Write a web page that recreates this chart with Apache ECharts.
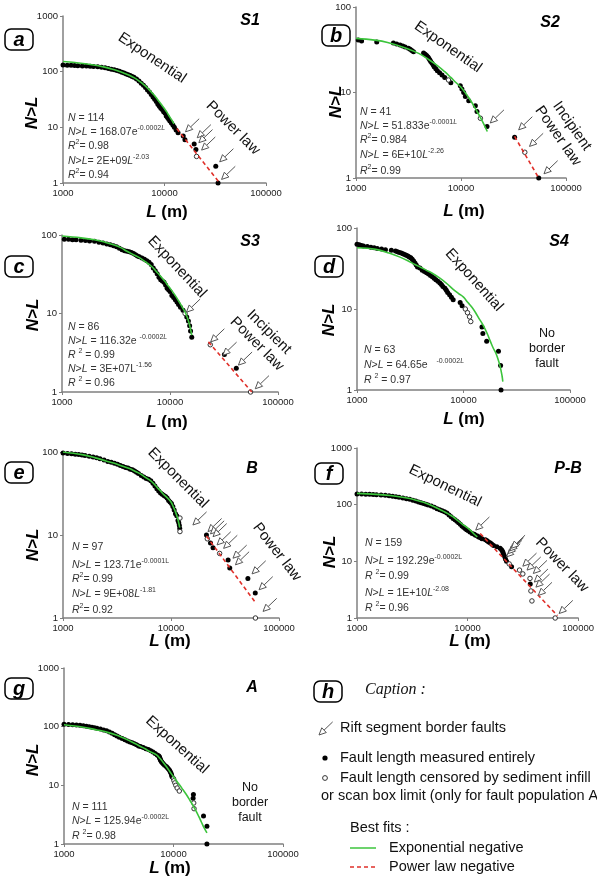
<!DOCTYPE html>
<html><head><meta charset="utf-8">
<script src="https://cdn.jsdelivr.net/npm/echarts@6/dist/echarts.min.js"></script>
<style>html,body{margin:0;padding:0;background:#fff}#c{width:597px;height:877px}</style>
</head><body><div id="c"></div>
<script>
// ---------- tick labels ----------
const xTickLabels = ['1000', '10000', '100000'];
const yTickLabels = ['1', '10', '100', '1000'];

// ---------- panel a : S1 ----------
const aDots = [[1000,132],[1100,131],[1200,130],[1300,129],[1400,128],[1550,127],[1700,126],[1850,125],[2000,124],[2200,122],[2400,120],[2600,117],[2800,114],[3000,111],[3200,108],[3400,105],[3600,102],[3800,98],[4000,95],[4200,91],[4400,88],[4600,85],[4800,82],[5000,79],[5300,74],[5600,68],[5900,62],[6200,57],[6500,52],[6800,47],[7100,43],[7400,39],[7700,35],[8000,32],[8300,29],[8600,26],[8900,24],[9200,22],[9500,21],[9800,19],[10100,18],[10400,16],[10700,15],[11000,14],[11300,13],[11700,12],[12100,11],[12500,10],[13000,9],[13600,8],[15300,7],[15900,6],[19600,5],[20400,4],[32000,2],[33700,1]];
const aOpen = [[20700,3]];
const aExp = [[1000,152],[1500,142],[2000,132],[2500,122],[3000,112],[3500,103],[4000,94],[4500,86],[5000,78],[5500,70],[6000,62],[6500,55],[7000,48],[7500,42],[8000,37],[8500,32],[9000,28],[9500,24.5],[10000,21.5],[10500,19],[11000,16.5],[11500,14.5],[12000,12.8],[12400,11.5]];
const aPow = [[13200,9.5],[35000,1]];
const aArrows = [[16100,8.3],[21000,6.5],[21800,5.3],[23200,3.9],[35000,2.4],[36500,1.16]];

// ---------- panel b : S2 ----------
const bDots = [[1050,41],[1130,40],[1576,39],[2270,38],[2440,37],[2630,36],[2790,35],[2940,34],[3160,33],[3280,32],[3400,31],[3530,30],[4400,29],[4560,28],[4700,27],[4850,26],[4950,25],[5050,24],[5150,23],[5300,22],[5450,21],[5550,20],[5750,19],[5950,18],[6250,17],[6600,16],[7000,15],[8000,13],[9850,12],[10200,11],[10600,10],[11000,9],[11850,8],[13700,7],[14200,6],[17700,4],[32400,3],[55000,1]];
const bOpen = [[7600,14],[15300,5],[40500,2]];
const bExp = [[1000,43],[1500,41],[2000,38.5],[3000,33],[4000,28.5],[5000,24],[6000,20.5],[7000,17.5],[8000,15],[9000,13],[10000,11.5],[12000,8.5],[14000,6.2],[16000,4.6],[17800,3.5]];
const bPow = [[32400,3.06],[55000,1]];
const bArrows = [[19000,4.4],[35400,3.66],[44900,2.34],[61700,1.12]];

// ---------- panel c : S3 ----------
const cDots = [[1050,88],[1150,88],[1250,87],[1350,87],[1500,86],[1650,85],[1800,84],[2000,83],[2200,81],[2400,79],[2600,77],[2800,75],[3000,73],[3200,71],[3400,68],[3600,65],[3800,63],[4000,62],[4200,61],[4400,60],[4600,58],[4800,56],[5000,54],[5200,53],[5500,51],[5800,49],[6100,47],[6400,45],[6700,42],[7000,38],[7300,35],[7600,32],[7900,29],[8200,27],[8500,26],[8800,25],[9100,23],[9400,21],[9700,20],[10000,19],[10400,17],[10800,16],[11200,15],[11600,14],[12000,13],[12500,12],[13200,11],[14300,9],[14800,8],[15200,7],[15500,6],[15900,5],[31900,3],[41100,2]];
const cOpen = [[13800,10],[23600,4],[55700,1]];
const cExp = [[1000,97],[1500,92],[2000,87],[2500,81],[3000,75],[3500,69],[4000,62],[4500,57],[5000,53],[5500,49],[6000,45],[6500,41.5],[7000,38],[7500,34],[8000,31],[8500,28],[9000,25.5],[9500,23],[10000,21],[11000,17.5],[12000,14.5],[13000,12],[14000,10],[15000,7.6],[15900,5.3]];
const cPow = [[22700,4.35],[57200,1]];
const cArrows = [[14200,10.4],[23800,4.35],[30900,2.94],[43000,2.2],[61600,1.1]];

// ---------- panel d : S4 ----------
const dDots = [[1000,63],[1050,62],[1100,61],[1150,60],[1250,59],[1350,58],[1450,57],[1550,56],[1700,55],[1850,54],[2100,53],[2300,52],[2400,51],[2500,50],[2600,49],[2700,48],[2800,47],[2900,46],[3000,45],[3100,44],[3200,43],[3300,41],[3400,39],[3500,37],[3600,35],[3700,33],[3900,32],[4100,30],[4300,29],[4500,28],[4700,27],[4900,26],[5100,25],[5300,24],[5500,23],[5750,22],[6000,21],[6200,20],[6400,19],[6700,18],[6900,17],[7100,16],[7400,15],[7700,14],[8000,13],[9300,12],[9700,11],[14900,6],[15200,5],[16500,4],[21300,3],[22300,2],[22500,1]];
const dOpen = [[10400,10],[10900,9],[11400,8],[11700,7]];
const dExp = [[1000,57],[1500,54.5],[2000,49],[2500,44],[3000,39.5],[3500,35.5],[4000,32.5],[4500,30],[5000,28],[6000,24],[7000,20.5],[8000,17.5],[9000,15.5],[10000,14],[11000,12],[12000,10.5],[13000,9],[14000,7.6],[15000,6.6],[16000,5.6],[17000,4.7],[18000,3.9],[19000,3.3],[20000,2.9],[21000,2.45],[22000,2.0],[23000,1.5],[23400,1.27]];

// ---------- panel e : B ----------
const eDots = [[1000,97],[1100,96],[1200,95],[1300,94],[1400,93],[1500,92],[1600,91],[1750,89],[1900,87],[2050,85],[2200,83],[2400,80],[2600,77],[2800,75],[3000,73],[3200,71],[3400,69],[3600,67],[3800,65],[4000,64],[4200,62],[4400,61],[4600,59],[4800,57],[5000,55],[5300,52],[5600,50],[5900,48],[6200,47],[6500,45],[6800,42],[7100,39],[7400,36],[7700,34],[8000,32],[8300,31],[8600,30],[8900,29],[9200,28],[9500,26],[9800,25],[10100,24],[10400,22],[10700,20],[11000,18],[11300,17],[11600,15],[11800,14],[11950,13],[12050,12],[21300,10],[23200,8],[24500,7],[33800,5],[35000,4],[51500,3],[60300,2]];
const eOpen = [[12100,16],[12100,11],[21700,9],[28200,6],[60500,1]];
const eExp = [[1000,100],[1500,93],[2000,85],[2500,78],[3000,73],[3500,68],[4000,64],[4500,60],[5000,56],[5500,52],[6000,48],[6500,45],[7000,41],[7500,37],[8000,34],[8500,31],[9000,29],[9500,27],[10000,25],[10500,22],[11000,19],[11500,16],[12050,12.3]];
const ePow = [[21300,9.7],[61300,1.5]];
const eArrows = [[15950,13.2],[22000,11],[23200,10.3],[24500,9.55],[26700,7.6],[30700,6.9],[37500,5.25],[39500,4.37],[56300,3.4],[65400,2.19],[71200,1.2]];

// ---------- panel f : P-B ----------
const fDots = [[1000,155],[1100,154],[1200,153],[1300,152],[1400,151],[1500,150],[1650,148],[1800,146],[1950,143],[2100,141],[2250,138],[2400,135],[2600,131],[2800,127],[3000,124],[3200,120],[3400,116],[3600,112],[3800,108],[4000,105],[4200,102],[4400,99],[4700,95],[5000,90],[5300,85],[5600,81],[5900,78],[6200,75],[6500,71],[6800,66],[7100,61],[7400,57],[7700,54],[8000,51],[8300,48],[8600,45],[8900,42],[9200,40],[9500,38],[9800,36],[10100,35],[10500,33],[11000,31],[11500,30],[11800,29],[12300,28],[12600,27],[13100,26],[13500,25],[14500,24],[15000,23],[15500,22],[16100,21],[16600,20],[17200,19],[18400,18],[19700,17],[20300,16],[20700,15],[21000,14],[21300,13],[21700,12],[22000,11],[22500,10],[25000,8],[36900,4]];
const fOpen = [[23800,9],[29500,7],[31600,6],[36700,5],[37400,3],[38200,2],[62000,1]];
const fExp = [[1000,158],[1500,152],[2000,145],[2500,137],[3000,128],[3500,118],[4000,110],[4500,101],[5000,92],[5500,84],[6000,77],[6500,71],[7000,65],[7500,60],[8000,54],[8500,49],[9000,45],[9500,42],[10000,39],[10500,36],[11000,33],[11500,30],[12250,27]];
const fPow = [[13000,31],[65000,1.1]];
const fArrows = [[11850,35.6],[22500,12],[23300,13.7],[24100,15.3],[24900,17],[31600,8.2],[34500,7],[39300,6.1],[40100,4.3],[41500,3.5],[43600,2.5],[67300,1.2]];

// ---------- panel g : A ----------
const gDots = [[1000,110],[1100,109],[1200,108],[1300,107],[1400,106],[1500,104],[1600,102],[1700,100],[1800,98],[1900,96],[2000,94],[2150,91],[2300,88],[2450,85],[2600,81],[2750,77],[2900,73],[3050,69],[3200,66],[3400,63],[3600,60],[3800,57],[4000,55],[4200,53],[4400,51],[4600,49],[4800,47],[5000,46],[5300,44],[5600,42],[5900,41],[6200,39],[6500,37],[6800,35],[7100,33],[7300,32],[7400,31],[7450,30],[7500,29],[7550,28],[7600,27],[7700,26],[7800,25],[7950,24],[8100,23],[8300,22],[8600,21],[8800,20],[9000,19],[9200,18],[9350,17],[9500,16],[9600,15],[9700,14],[15200,7],[15100,6],[18800,3],[20200,2],[20200,1]];
const gOpen = [[10000,13],[10100,12],[10300,11],[10500,10],[10800,9],[11300,8],[15300,5],[15400,4]];
const gExp = [[1000,108],[1500,98],[2000,88],[2500,80],[3000,72],[3500,64],[4000,57],[4500,51],[5000,46],[5500,42],[6000,38],[6500,35.5],[7000,33],[7500,29],[8000,25],[8500,21.5],[9000,18.5],[9500,16],[10000,14],[11000,11],[12000,8.8],[13000,7.1],[14000,5.7],[15000,4.6],[16000,3.7],[17000,2.95],[18000,2.35],[19000,1.9],[20200,1.55]];

// ---------- layout / styles ----------
const F = 'Arial, "Liberation Sans", sans-serif';
const GREEN = '#3cc43c', RED = '#e0302a', AX = '#808080';
const panels = [
  {grid:{left:63,top:16,width:203,height:167}, yMax:1000, dots:aDots, open:aOpen, exp:aExp, pow:aPow, arrows:aArrows},
  {grid:{left:356,top:7,width:210,height:171}, yMax:100, dots:bDots, open:bOpen, exp:bExp, pow:bPow, arrows:bArrows},
  {grid:{left:62,top:235,width:216,height:157}, yMax:100, dots:cDots, open:cOpen, exp:cExp, pow:cPow, arrows:cArrows},
  {grid:{left:357,top:228,width:213,height:162}, yMax:100, dots:dDots, open:dOpen, exp:dExp, pow:null, arrows:null},
  {grid:{left:63,top:452,width:216,height:166}, yMax:100, dots:eDots, open:eOpen, exp:eExp, pow:ePow, arrows:eArrows},
  {grid:{left:357,top:448,width:226,height:170}, yMax:1000, dots:fDots, open:fOpen, exp:fExp, pow:fPow, arrows:fArrows},
  {grid:{left:64,top:668,width:219,height:176}, yMax:1000, dots:gDots, open:gOpen, exp:gExp, pow:null, arrows:null}
];

function fmtX(v){ return xTickLabels[Math.round(Math.log10(v)) - 3] || ''; }
function fmtY(v){ return yTickLabels[Math.round(Math.log10(v))] || ''; }

function arrowShape(p, col){
  const ux = 0.72, uy = -0.69, L = 19, H = 7, W = 3.3;
  const bx = p[0] + ux*H, by = p[1] + uy*H, nx = -uy, ny = ux;
  return [
    {type:'line', shape:{x1:bx, y1:by, x2:p[0]+ux*L, y2:p[1]+uy*L}, style:{stroke:col, lineWidth:1}},
    {type:'polygon', shape:{points:[[p[0],p[1]],[bx+nx*W,by+ny*W],[bx-nx*W,by-ny*W]]}, style:{fill:'#fff', stroke:col, lineWidth:1}}
  ];
}
function renderArrow(params, api){
  const p = api.coord([api.value(0), api.value(1)]);
  return {type:'group', children: arrowShape(p, '#555')};
}

const grids = [], xAxes = [], yAxes = [], series = [];
panels.forEach((pn, i) => {
  grids.push(Object.assign({containLabel:false}, pn.grid));
  const axBase = {
    type:'log', logBase:10, gridIndex:i,
    axisLine:{show:true, onZero:false, lineStyle:{color:AX, width:1.5}},
    axisTick:{show:true, length:3, lineStyle:{color:AX, width:1}},
    splitLine:{show:false}, minorTick:{show:false}, minorSplitLine:{show:false}
  };
  xAxes.push(Object.assign({}, axBase, {min:1000, max:100000,
    axisLabel:{fontSize:9.5, fontFamily:F, color:'#222', margin:5, formatter:fmtX, showMinLabel:true, showMaxLabel:true}}));
  yAxes.push(Object.assign({}, axBase, {min:1, max:pn.yMax,
    axisLabel:{fontSize:9.5, fontFamily:F, color:'#222', margin:5, formatter:fmtY, showMinLabel:true, showMaxLabel:true}}));
  series.push({type:'scatter', xAxisIndex:i, yAxisIndex:i, data:pn.dots, symbol:'circle', symbolSize:5,
    itemStyle:{color:'#000', opacity:1}, z:3, silent:true});
  series.push({type:'scatter', xAxisIndex:i, yAxisIndex:i, data:pn.open, symbol:'circle', symbolSize:4.5,
    itemStyle:{color:'#fff', borderColor:'#333', borderWidth:1, opacity:1}, z:3, silent:true});
  series.push({type:'line', xAxisIndex:i, yAxisIndex:i, data:pn.exp, smooth:0.4, showSymbol:false,
    lineStyle:{color:GREEN, width:1.6}, z:4, silent:true});
  if (pn.pow) series.push({type:'line', xAxisIndex:i, yAxisIndex:i, data:pn.pow, showSymbol:false,
    lineStyle:{color:RED, width:1.6, type:[4,3]}, z:4, silent:true});
  if (pn.arrows) series.push({type:'custom', xAxisIndex:i, yAxisIndex:i, data:pn.arrows,
    renderItem:renderArrow, clip:false, z:6, silent:true});
});

// ---------- text annotations ----------
const G = [];
function txt(x, y, text, o){
  o = o || {};
  G.push({type:'text', x:x, y:y, rotation:o.rot ? -o.rot*Math.PI/180 : (o.rad || 0), z:50, silent:true,
    style:{text:text, fill:o.fill || '#111', fontSize:o.size || 11, fontFamily:o.family || F,
      fontStyle:o.style || 'normal', fontWeight:o.weight || 'normal',
      align:o.align || 'center', textAlign:o.align || 'center',
      verticalAlign:'middle', textVerticalAlign:'middle', lineHeight:o.lh, rich:o.rich}});
}
const SR = {
  i:{fontStyle:'italic', fontSize:10.5, fill:'#333', fontFamily:F, lineHeight:14},
  s:{fontSize:7, fill:'#333', fontFamily:F, lineHeight:7, verticalAlign:'top'},
  si:{fontSize:7, fontStyle:'italic', fill:'#333', fontFamily:F, lineHeight:7, verticalAlign:'top'}
};
function stat(x, ys, lines){
  lines.forEach((l, k) => txt(x, ys[k], l, {align:'left', size:10.5, fill:'#333', rich:SR, lh:14}));
}
function label(x, y, ch){
  G.push({type:'rect', x:x, y:y, z:40, silent:true, shape:{x:0, y:0, width:28, height:21, r:6},
    style:{fill:'#fff', stroke:'#000', lineWidth:1.5}});
  txt(x+14, y+11, ch, {size:20, weight:'bold', style:'italic', fill:'#000'});
}
const YT = {size:17, weight:'bold', style:'italic', fill:'#000', rad:Math.PI/2};
const LM = {size:17, weight:'bold', fill:'#000', rich:{a:{fontStyle:'italic', fontWeight:'bold', fontSize:17, fill:'#000', fontFamily:F}}};
const TT = {size:16, weight:'bold', style:'italic', fill:'#000'};
const AN = {size:15, fill:'#111'};
function an(deg, extra){ return Object.assign({rot:deg}, AN, extra || {}); }

// panel a
label(5, 29, 'a'); txt(250, 21, 'S1', TT); txt(32, 113, 'N>L', YT); txt(167, 212, '{a|L} (m)', LM);
txt(152, 58, 'Exponential', an(34)); txt(233, 128, 'Power law', an(45));
stat(68, [118,132,146,161,175], ['{i|N} = 114','{i|N}>{i|L} = 168.07e{s|-0.0002}{si|L}','{i|R}{s|2}= 0.98','{i|N}>{i|L}= 2E+09{i|L}{s|-2.03}','{i|R}{s|2}= 0.94']);
// panel b
label(322, 25, 'b'); txt(550, 23, 'S2', TT); txt(336, 102, 'N>L', YT); txt(464, 211, '{a|L} (m)', LM);
txt(448, 47, 'Exponential', an(35)); txt(565, 131, 'Incipient\nPower law', an(55, {lh:17}));
stat(360, [112,126,140,155,171], ['{i|N} = 41','{i|N}>{i|L} = 51.833e{s|-0.0001}{si|L}','{i|R}{s|2}= 0.984','{i|N}>{i|L} = 6E+10{i|L}{s|-2.26}','{i|R}{s|2}= 0.99']);
// panel c
label(5, 256, 'c'); txt(250, 242, 'S3', TT); txt(33, 315, 'N>L', YT); txt(167, 422, '{a|L} (m)', LM);
txt(177, 267, 'Exponential', an(47)); txt(263, 338, 'Incipient\nPower law', an(45, {lh:17}));
stat(68, [327,341,355,369,383], ['{i|N} = 86','{i|N}>{i|L} = 116.32e {s|-0.0002}{si|L}','{i|R} {s|2} = 0.99','{i|N}>{i|L} = 3E+07L{s|-1.56}','{i|R} {s|2} = 0.96']);
// panel d
label(315, 256, 'd'); txt(559, 242, 'S4', TT); txt(329, 320, 'N>L', YT); txt(464, 419, '{a|L} (m)', LM);
txt(474, 280, 'Exponential', an(48)); txt(547, 349, 'No\nborder\nfault', {size:12.5, fill:'#111', lh:15});
stat(364, [350,365,380], ['{i|N} = 63','{i|N}>{i|L} = 64.65e   {s|-0.0002}{si|L}','{i|R} {s|2} = 0.97']);
// panel e
label(5, 462, 'e'); txt(252, 469, 'B', TT); txt(33, 545, 'N>L', YT); txt(170, 641, '{a|L} (m)', LM);
txt(178, 478, 'Exponential', an(45)); txt(277, 552, 'Power law', an(52));
stat(72, [547,565,579,594,610], ['{i|N} = 97','{i|N}>{i|L} = 123.71e{s|-0.0001L}','{i|R}{s|2}= 0.99','{i|N}>{i|L} = 9E+08{i|L}{s|-1.81}','{i|R}{s|2}= 0.92']);
// panel f
label(315, 463, 'f'); txt(568, 469, 'P-B', TT); txt(330, 552, 'N>L', YT); txt(470, 641, '{a|L} (m)', LM);
txt(445, 486, 'Exponential', an(26)); txt(562, 565, 'Power law', an(46));
stat(365, [543,561,576,593,608], ['{i|N} = 159','{i|N}>{i|L} = 192.29e{s|-0.0002L}','{i|R} {s|2}= 0.99','{i|N}>{i|L} = 1E+10{i|L}{s|-2.08}','{i|R} {s|2}= 0.96']);
// panel g
label(5, 678, 'g'); txt(252, 688, 'A', TT); txt(33, 760, 'N>L', YT); txt(170, 868, '{a|L} (m)', LM);
txt(177, 745, 'Exponential', an(42)); txt(250, 803, 'No\nborder\nfault', {size:12.5, fill:'#111', lh:15});
stat(72, [807,821,836], ['{i|N} = 111','{i|N}>{i|L} = 125.94e{s|-0.0002L}','{i|R} {s|2}= 0.98']);

// panel h (caption)
label(314, 681, 'h');
txt(365, 690, 'Caption :', {size:16, style:'italic', family:'"Liberation Serif", "Times New Roman", serif', fill:'#111', align:'left'});
arrowShape([319, 735], '#555').forEach(e => { e.z = 50; e.silent = true; G.push(e); });
const CP = {size:14.5, fill:'#111', align:'left'};
txt(340, 728, 'Rift segment border faults', CP);
G.push({type:'circle', z:50, silent:true, shape:{cx:325, cy:758, r:2.6}, style:{fill:'#000'}});
txt(340, 758, 'Fault length measured entirely', CP);
G.push({type:'circle', z:50, silent:true, shape:{cx:325, cy:778, r:2.4}, style:{fill:'#fff', stroke:'#333', lineWidth:1}});
txt(340, 778, 'Fault length censored by sediment infill', CP);
txt(321, 796, 'or scan box limit (only for fault population A)', CP);
txt(350, 828, 'Best fits :', CP);
G.push({type:'line', z:50, silent:true, shape:{x1:350, y1:848, x2:376, y2:848}, style:{stroke:GREEN, lineWidth:1.5}});
txt(389, 848, 'Exponential negative', CP);
G.push({type:'line', z:50, silent:true, shape:{x1:350, y1:867, x2:376, y2:867}, style:{stroke:RED, lineWidth:1.5, lineDash:[4,3]}});
txt(389, 867, 'Power law negative', CP);

const chart = echarts.init(document.getElementById('c'), null, {renderer:'canvas'});
chart.setOption({
  animation:false, backgroundColor:'#fff',
  grid:grids, xAxis:xAxes, yAxis:yAxes, series:series, graphic:{elements:G}
});
</script></body></html>
